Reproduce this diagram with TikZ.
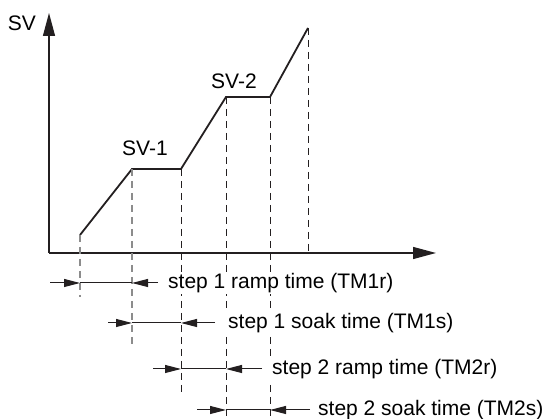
\documentclass[tikz,border=0pt]{standalone}
\usepackage{fontspec}
\setmainfont{Liberation Sans}
\usetikzlibrary{arrows.meta,calc}
\definecolor{svblack}{HTML}{231F20}
\definecolor{svgray}{HTML}{8C8C8C}
\tikzset{
  sv/axis/.style={-{Triangle[length=23pt,width=12pt]}, svblack, line width=1.3pt},
  sv/profile/.style={svblack, line width=1.8pt, line join=miter},
  sv/guide/.style={svblack, line width=0.9pt, dash pattern=on 7pt off 5pt},
  sv/guidegray/.style={svgray, line width=1.3pt, dash pattern=on 7pt off 5pt},
  sv/dim/.style={svblack, line width=1pt},
  sv/dimarr/.style={-{Triangle[length=16pt,width=8pt]}, svblack, line width=1pt},
  sv/label/.style={font=\fontsize{21}{25}\selectfont, inner sep=0pt},
  sv/note/.style={font=\fontsize{21}{25}\selectfont, fill=white,
    inner xsep=2pt, inner ysep=1pt, anchor=west}
}

\begin{document}
\begin{tikzpicture}[x=1pt, y=1pt]
  \useasboundingbox (0,0) rectangle (547,419);

  % axes
  \coordinate (org) at (49,166);
  \coordinate (ytip) at (49,406);
  \coordinate (xtip) at (436,166);
  \draw[sv/axis] (org) -- (ytip);
  \draw[sv/axis] (org) -- (xtip);
  \node[sv/label] (svlab) at (22,396) {SV};

  % set value profile
  \coordinate (p0) at (80,184);
  \coordinate (p1) at (132,250);
  \coordinate (p2) at (181,250);
  \coordinate (p3) at (226,322);
  \coordinate (p4) at (270,322);
  \coordinate (p5) at (308,391);
  \draw[sv/profile] (p0) -- (p1) -- (p2) -- (p3) -- (p4) -- (p5);
  \node[sv/label] (sv1) at (145,271) {SV-1};
  \node[sv/label] (sv2) at (234,338) {SV-2};

  % guide lines
  \coordinate (g0) at (p0 |- 0,122);
  \coordinate (g1) at (p1 |- 0,72);
  \coordinate (g2) at (p2 |- 0,24);
  \coordinate (g3) at (p3 |- 0,0);
  \coordinate (g4) at (p4 |- 0,0);
  \coordinate (g5) at (p5 |- org);
  \draw[sv/guidegray] (p0) -- (g0);
  \draw[sv/guidegray] (p1) -- (g1);
  \draw[sv/guide] (p2) -- (g2);
  \draw[sv/guide] (p3) -- (g3);
  \draw[sv/guide] (p4) -- (g4);
  \draw[sv/guide] (p5) -- (g5);

  % step 1 ramp
  \coordinate (r1a) at (50,136);
  \coordinate (r1s) at (p0 |- r1a);
  \coordinate (r1e) at (p1 |- r1a);
  \coordinate (r1b) at (158,136);
  \draw[sv/dimarr] (r1a) -- (r1s);
  \draw[sv/dim] (r1s) -- (r1e);
  \draw[sv/dimarr] (r1b) -- (r1e);
  \node[sv/note] (tm1r) at (166,136) {step 1 ramp time (TM1r)};

  % step 1 soak
  \coordinate (s1a) at (108,96);
  \coordinate (s1s) at (p1 |- s1a);
  \coordinate (s1e) at (p2 |- s1a);
  \coordinate (s1b) at (215,96);
  \draw[sv/dimarr] (s1a) -- (s1s);
  \draw[sv/dim] (s1s) -- (s1e);
  \draw[sv/dimarr] (s1b) -- (s1e);
  \node[sv/note] (tm1s) at (226,96) {step 1 soak time (TM1s)};

  % step 2 ramp
  \coordinate (r2a) at (153,50);
  \coordinate (r2s) at (p2 |- r2a);
  \coordinate (r2e) at (p3 |- r2a);
  \coordinate (r2b) at (262,50);
  \draw[sv/dimarr] (r2a) -- (r2s);
  \draw[sv/dim] (r2s) -- (r2e);
  \draw[sv/dimarr] (r2b) -- (r2e);
  \node[sv/note] (tm2r) at (270,50) {step 2 ramp time (TM2r)};

  % step 2 soak
  \coordinate (s2a) at (197,9);
  \coordinate (s2s) at (p3 |- s2a);
  \coordinate (s2e) at (p4 |- s2a);
  \coordinate (s2b) at (310,9);
  \draw[sv/dimarr] (s2a) -- (s2s);
  \draw[sv/dim] (s2s) -- (s2e);
  \draw[sv/dimarr] (s2b) -- (s2e);
  \node[sv/note] (tm2s) at (316,9) {step 2 soak time (TM2s)};
\end{tikzpicture}
\end{document}
